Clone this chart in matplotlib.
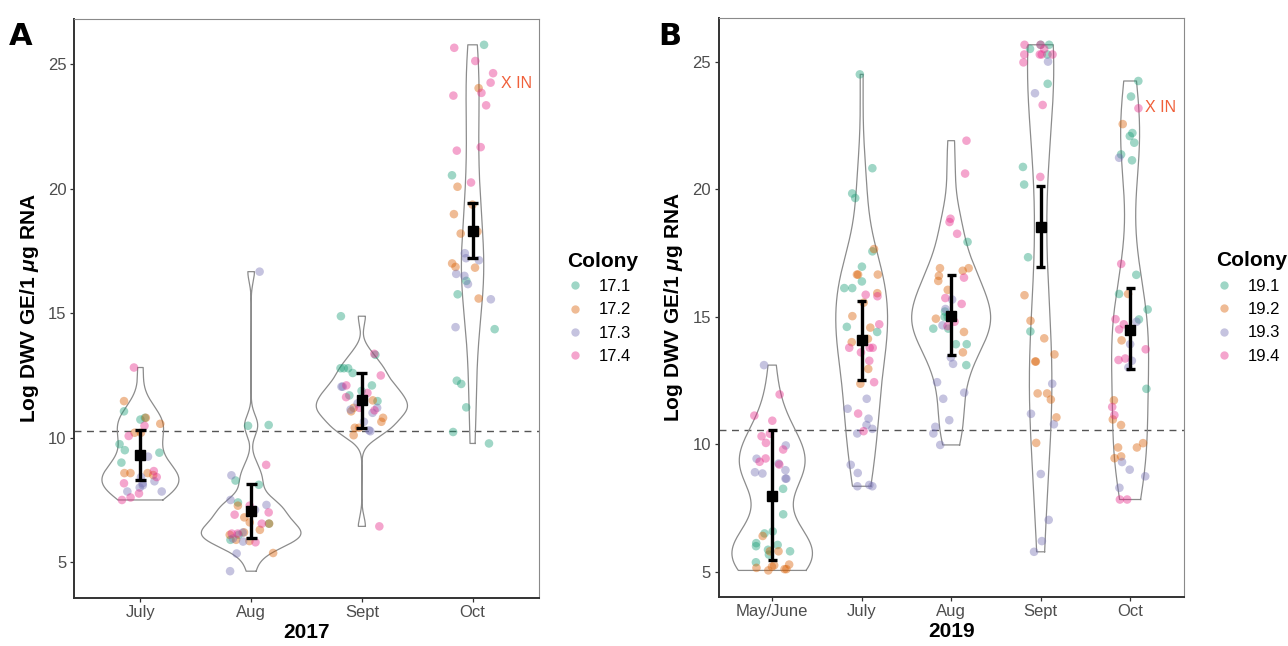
import numpy as np
import matplotlib
matplotlib.use('Agg')
import matplotlib.pyplot as plt
from matplotlib.lines import Line2D

plt.rcParams['font.family'] = ['Liberation Sans', 'DejaVu Sans']
plt.rcParams['mathtext.fontset'] = 'custom'
plt.rcParams['mathtext.it'] = 'Liberation Sans:italic:bold'
plt.rcParams['mathtext.rm'] = 'Liberation Sans:bold'
plt.rcParams['mathtext.bf'] = 'Liberation Sans:bold'

# ---------------- data: 2017 ----------------
months_2017 = ['July', 'Aug', 'Sept', 'Oct']
colonies_2017 = ['17.1', '17.2', '17.3', '17.4']
july_2017 = {
    '17.1': [11.06, 10.73, 10.8, 9.74, 9.5, 9.4, 9.0],
    '17.2': [11.47, 10.56, 10.8, 10.2, 10.2, 8.58, 8.58, 8.58, 8.5],
    '17.3': [9.24, 8.42, 8.25, 8.17, 7.84, 7.84, 8.09, 8.0],
    '17.4': [12.82, 10.48, 10.07, 8.66, 8.42, 8.17, 7.76, 7.6, 7.5],
}
aug_2017 = {
    '17.1': [10.51, 10.48, 8.28, 8.11, 7.4, 6.55, 6.1, 5.9],
    '17.2': [7.27, 6.8, 6.6, 6.55, 6.3, 6.2, 6.1, 5.9, 5.37, 5.85],
    '17.3': [16.67, 8.49, 7.5, 7.3, 7.1, 6.19, 5.83, 5.95, 5.35, 4.64],
    '17.4': [8.91, 7.27, 6.91, 6.55, 6.15, 6.15, 5.8, 7.0],
}
sept_2017 = {
    '17.1': [14.88, 13.33, 12.79, 12.79, 12.79, 12.6, 12.1, 11.88, 11.47, 11.7],
    '17.2': [11.2, 11.06, 10.8, 10.64, 10.4, 10.4, 10.1, 11.5],
    '17.3': [12.05, 12.05, 11.38, 11.13, 11.2, 11.0, 10.64, 10.3, 10.26],
    '17.4': [13.37, 12.5, 12.1, 11.8, 11.63, 11.2, 11.1, 6.44],
}
oct_2017 = {
    '17.1': [25.78, 20.54, 16.3, 15.76, 14.36, 12.29, 12.16, 11.22, 10.23, 9.77],
    '17.2': [24.04, 20.08, 19.36, 18.98, 18.28, 18.2, 17.0, 16.86, 16.83, 15.59],
    '17.3': [17.41, 17.13, 17.21, 16.58, 16.5, 16.17, 15.56, 14.44],
    '17.4': [25.66, 25.13, 24.64, 24.26, 23.85, 23.74, 23.35, 21.67, 21.53, 20.25],
}
mean_2017 = [9.3, 7.04, 11.52, 18.31]
lower_2017 = [8.31, 5.97, 10.38, 17.2]
upper_2017 = [10.32, 8.15, 12.59, 19.41]
threshold_2017 = 10.29

# ---------------- data: 2019 ----------------
months_2019 = ['May/June', 'July', 'Aug', 'Sept', 'Oct']
colonies_2019 = ['19.1', '19.2', '19.3', '19.4']
mayjune_2019 = {
    '19.1': [8.25, 7.25, 6.58, 6.5, 6.12, 5.86, 5.67, 5.37, 6.0, 5.8, 6.05],
    '19.2': [6.4, 5.8, 5.28, 5.1, 5.1, 5.05, 5.2, 5.8, 5.15, 5.25],
    '19.3': [13.1, 9.95, 9.43, 9.24, 8.98, 8.85, 8.65, 8.65, 8.9],
    '19.4': [11.95, 11.12, 10.92, 10.41, 10.31, 10.05, 9.79, 9.44, 9.31, 9.2],
}
july_2019 = {
    '19.1': [24.5, 20.82, 19.83, 19.65, 17.56, 16.96, 16.38, 16.12, 16.12, 14.4, 14.6],
    '19.2': [17.65, 16.65, 16.65, 16.65, 15.92, 15.55, 15.02, 14.57, 14.13, 12.95, 12.37, 14.0],
    '19.3': [11.78, 11.39, 11.0, 10.75, 10.42, 10.6, 9.19, 8.87, 8.35, 8.35, 8.4],
    '19.4': [15.86, 15.8, 14.7, 13.78, 13.78, 13.78, 13.27, 12.43, 11.2, 10.51, 13.6],
}
aug_2019 = {
    '19.1': [17.93, 14.99, 14.99, 14.53, 14.53, 13.92, 13.92, 13.1, 15.2],
    '19.2': [16.9, 16.9, 16.8, 16.6, 16.05, 14.92, 14.4, 13.6, 16.4],
    '19.3': [15.67, 14.66, 13.4, 13.15, 12.43, 12.02, 11.78, 10.94, 10.68, 10.42, 9.97, 15.3],
    '19.4': [21.9, 20.61, 18.84, 18.71, 18.25, 16.53, 15.73, 15.5, 14.63, 14.8],
}
sept_2019 = {
    '19.1': [25.66, 25.66, 25.28, 24.13, 20.87, 20.18, 17.33, 14.42, 25.5],
    '19.2': [15.84, 14.84, 14.15, 13.52, 13.24, 13.24, 11.99, 11.99, 11.75, 11.05, 10.05],
    '19.3': [25.0, 23.76, 12.37, 11.19, 10.78, 8.83, 7.03, 6.2, 5.78],
    '19.4': [25.66, 25.66, 25.28, 25.28, 25.28, 25.28, 24.97, 23.3, 20.48, 25.5],
}
oct_2019 = {
    '19.1': [24.24, 23.63, 22.2, 22.08, 21.82, 21.36, 21.13, 16.64, 15.89, 15.28, 14.89, 12.17],
    '19.2': [22.55, 15.89, 14.07, 11.72, 10.97, 10.75, 10.04, 9.87, 9.87, 9.52, 9.45],
    '19.3': [21.23, 14.8, 13.92, 13.27, 13.01, 9.3, 9.0, 8.74, 8.29],
    '19.4': [23.17, 17.07, 14.5, 14.7, 14.9, 13.72, 13.36, 13.3, 11.46, 11.14, 7.83, 7.83],
}
mean_2019 = [7.98, 14.07, 15.02, 18.53, 14.48]
lower_2019 = [5.47, 12.53, 13.48, 16.96, 12.96]
upper_2019 = [10.57, 15.61, 16.64, 20.13, 16.13]
threshold_2019 = 10.57

colony_colors = ['#1B9E77', '#D95F02', '#7570B3', '#E7298A']


def kde_nrd0(vals):
    x = np.asarray(vals, float)
    n = len(x)
    sd = x.std(ddof=1)
    q75, q25 = np.percentile(x, [75, 25])
    iqr = q75 - q25
    lo = min(sd, iqr / 1.34) if iqr > 0 else sd
    bw = 0.9 * lo * n ** -0.2
    grid = np.linspace(x.min(), x.max(), 512)
    dens = np.exp(-0.5 * ((grid[:, None] - x[None, :]) / bw) ** 2).sum(1) / (n * bw * np.sqrt(2 * np.pi))
    return grid, dens


def draw_panel(ax, months, colonies, groups, means, lows, highs, thr, xlabel, seed, xin_pos):
    rng = np.random.default_rng(seed)
    pos = np.arange(1, len(months) + 1)
    allvals = []
    kdes = []
    for g in groups:
        v = np.concatenate([g[c] for c in colonies])
        allvals.append(v)
        kdes.append(kde_nrd0(v))
    maxd = max(d.max() for _, d in kdes)
    for p, (grid, d) in zip(pos, kdes):
        hw = 0.45 * d / maxd
        xs = np.concatenate([p + hw, (p - hw)[::-1], [p + hw[0]]])
        ys = np.concatenate([grid, grid[::-1], [grid[0]]])
        ax.plot(xs, ys, color='#8C8C8C', lw=0.9, zorder=2)
    for p, g in zip(pos, groups):
        for c, col in zip(colonies, colony_colors):
            vals = np.asarray(g[c])
            xj = p + rng.uniform(-0.2, 0.2, len(vals))
            ax.scatter(xj, vals, s=38, color=col, alpha=0.42, edgecolors='none', zorder=3)
    ax.axhline(thr, color='#555555', lw=1.0, ls=(0, (5, 4)), zorder=1)
    ax.vlines(pos, lows, highs, color='black', lw=2.4, zorder=5)
    ax.hlines(lows, pos - 0.05, pos + 0.05, color='black', lw=2.4, zorder=5)
    ax.hlines(highs, pos - 0.05, pos + 0.05, color='black', lw=2.4, zorder=5)
    ax.plot(pos, means, ls='none', marker='s', ms=6.5, color='black', zorder=6)
    allv = np.concatenate(allvals)
    rg = allv.max() - allv.min()
    ax.set_ylim(allv.min() - 0.05 * rg, allv.max() + 0.05 * rg)
    ax.set_xlim(0.4, len(months) + 0.6)
    ax.set_xticks(pos)
    ax.set_xticklabels(months)
    ax.set_yticks([5, 10, 15, 20, 25])
    ax.tick_params(axis='both', labelsize=12, labelcolor='#4D4D4D', color='#333333',
                   length=3, width=0.9, pad=2.5)
    for s in ['top', 'right']:
        ax.spines[s].set_color('#8A8A8A')
        ax.spines[s].set_linewidth(0.8)
    for s in ['left', 'bottom']:
        ax.spines[s].set_color('#333333')
        ax.spines[s].set_linewidth(1.4)
    ax.set_xlabel(xlabel, fontsize=15, fontweight='bold', labelpad=2)
    ax.set_ylabel(r'Log DWV GE/1 $\mu$g RNA', fontsize=15, fontweight='bold', labelpad=5)
    ax.text(xin_pos[0], xin_pos[1], 'X IN', color='#F0603A', fontsize=11.5,
            ha='left', va='center', zorder=7)
    handles = [Line2D([], [], ls='none', marker='o', ms=6, markerfacecolor=c,
                      markeredgecolor='none', alpha=0.42) for c in colony_colors]
    return handles


fig = plt.figure(figsize=(12.88, 6.46), dpi=100)
axA = fig.add_axes([74 / 1288, 48.5 / 646, 465 / 1288, 579 / 646])
axB = fig.add_axes([718.5 / 1288, 49.3 / 646, 465.3 / 1288, 578.2 / 646])

hA = draw_panel(axA, months_2017, colonies_2017, [july_2017, aug_2017, sept_2017, oct_2017],
                mean_2017, lower_2017, upper_2017, threshold_2017, '2017', 11, (4.26, 24.24))
hB = draw_panel(axB, months_2019, colonies_2019,
                [mayjune_2019, july_2019, aug_2019, sept_2019, oct_2019],
                mean_2019, lower_2019, upper_2019, threshold_2019, '2019', 5, (5.17, 23.19))

for ax, h, cols, off in [(axA, hA, colonies_2017, 1.06), (axB, hB, colonies_2019, 1.069)]:
    ax.legend(h, cols, title='Colony', loc='center left', bbox_to_anchor=(off, 0.5),
              frameon=False, fontsize=12,
              title_fontproperties={'weight': 'bold', 'size': 15},
              handlelength=1.0, handletextpad=0.9, labelspacing=0.5,
              borderpad=0, borderaxespad=0, alignment='left')

fig.text(9 / 1288, 1 - 22 / 646, 'A', fontsize=22, fontweight='heavy', family='DejaVu Sans',
         ha='left', va='top')
fig.text(658 / 1288, 1 - 22 / 646, 'B', fontsize=22, fontweight='heavy', family='DejaVu Sans',
         ha='left', va='top')

fig.savefig('out.png', dpi=100, facecolor='white')
